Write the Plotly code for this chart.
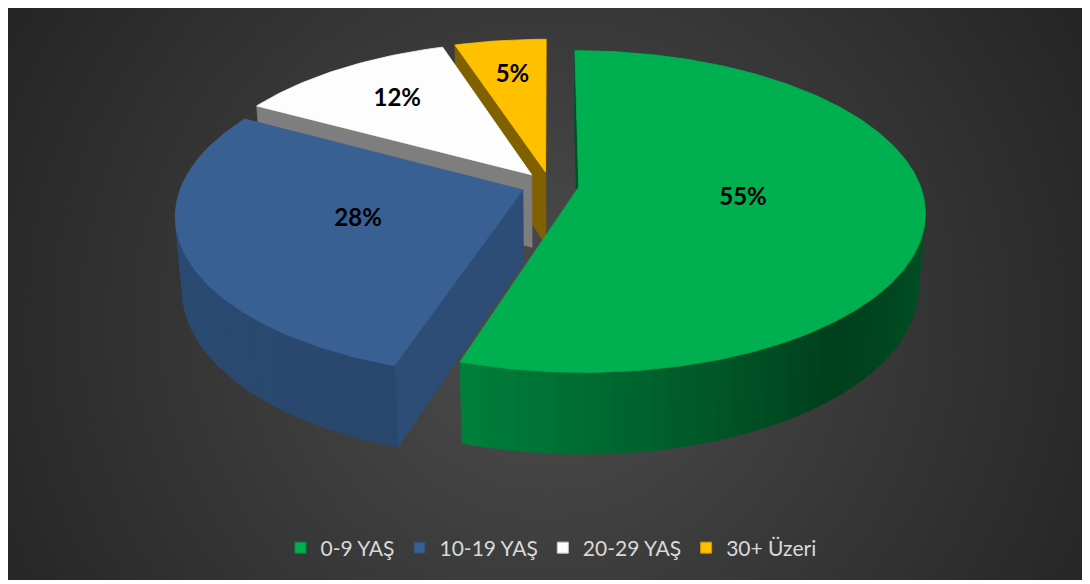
import math
import base64
import plotly.graph_objects as go

# ---------------- data ----------------
CATEGORIES = ["0-9 YAŞ", "10-19 YAŞ", "20-29 YAŞ", "30+ Üzeri"]
VALUES = [55, 28, 12, 5]

# ---------------- style ----------------
TOP_COLORS = ["#00B050", "#386093", "#FDFDFD", "#FFC000"]
CUT_SHADE = [0.45, 0.80, 0.50, 0.50]
LABEL_RADIUS = [0.48, 0.50, 0.68, 0.70]

PAGE_OFF = 8                   # default body margin of the html page
W, H = 1090 - PAGE_OFF, 584 - PAGE_OFF
CX, CY = 550.0 - PAGE_OFF, 185.0 - PAGE_OFF   # pie centre (top face)
FOCAL = 2000.0
DIST = 5.86
ALPHA = math.radians(27.3)     # view elevation
THICK = 0.245                  # pie thickness (radius = 1)
EXPLODE = 0.085                # explosion distance (radius = 1)

CA, SA = math.cos(ALPHA), math.sin(ALPHA)
CAM = (0.0, DIST * SA, -DIST * CA)


def project(X, Y, Z):
    d = DIST + Z * CA - Y * SA
    yc = Y * CA + Z * SA
    return CX + FOCAL * X / d, CY - FOCAL * yc / d


def shade(hexc, f):
    r, g, b = int(hexc[1:3], 16), int(hexc[3:5], 16), int(hexc[5:7], 16)
    return "rgb(%d,%d,%d)" % (min(255, round(r * f)), min(255, round(g * f)), min(255, round(b * f)))


def wall_factor(t):
    pts = [(0, 0.5), (95, 0.48), (140, 0.36), (200, 0.74), (280, 0.8), (360, 0.8)]
    for (a0, f0), (a1, f1) in zip(pts[:-1], pts[1:]):
        if a0 <= t <= a1:
            return f0 + (f1 - f0) * (t - a0) / (a1 - a0)
    return 0.6


def visible(normal, point):
    v = (CAM[0] - point[0], CAM[1] - point[1], CAM[2] - point[2])
    return normal[0] * v[0] + normal[1] * v[1] + normal[2] * v[2] > 0


def poly_trace(pts, color):
    xs = [p[0] for p in pts] + [pts[0][0]]
    ys = [p[1] for p in pts] + [pts[0][1]]
    return go.Scatter(x=xs, y=ys, mode="lines", fill="toself", fillcolor=color,
                      line=dict(color=color, width=0.8), hoverinfo="skip", showlegend=False)


total = float(sum(VALUES))
slices = []
start = 0.0
for i, v in enumerate(VALUES):
    sweep = 360.0 * v / total
    slices.append((i, start, start + sweep))
    start += sweep


def offset(t0, t1):
    m = math.radians((t0 + t1) / 2)
    return EXPLODE * math.sin(m), EXPLODE * math.cos(m)


# far slices first
order = sorted(slices, key=lambda s: -offset(s[1], s[2])[1])

traces = []
label_x, label_y, label_t = [], [], []
for i, t0, t1 in order:
    ox, oz = offset(t0, t1)
    col = TOP_COLORS[i]

    def rim(t, Y):
        a = math.radians(t)
        return project(ox + math.sin(a), Y, oz + math.cos(a))

    apex_top = project(ox, 0, oz)
    apex_bot = project(ox, -THICK, oz)

    # cut faces
    for t, sgn in ((t0, -1), (t1, 1)):
        a = math.radians(t)
        n = (sgn * math.cos(a), 0.0, -sgn * math.sin(a))
        p = (ox + 0.5 * math.sin(a), -THICK / 2, oz + 0.5 * math.cos(a))
        if visible(n, p):
            traces.append(poly_trace([apex_top, rim(t, 0), rim(t, -THICK), apex_bot],
                                     shade(col, CUT_SHADE[i])))

    # outer wall
    step = 2.0
    t = t0
    while t < t1 - 1e-9:
        te = min(t1, t + step)
        tm = math.radians((t + te) / 2)
        n = (math.sin(tm), 0.0, math.cos(tm))
        p = (ox + math.sin(tm), -THICK / 2, oz + math.cos(tm))
        if visible(n, p):
            traces.append(poly_trace([rim(t, 0), rim(te, 0), rim(te, -THICK), rim(t, -THICK)],
                                     shade(col, wall_factor((t + te) / 2))))
        t = te

    # top face
    pts = [apex_top]
    n_seg = max(2, int(math.ceil(t1 - t0)))
    for k in range(n_seg + 1):
        pts.append(rim(t0 + (t1 - t0) * k / n_seg, 0))
    traces.append(poly_trace(pts, col))

    # label
    m = math.radians((t0 + t1) / 2)
    lx, ly = project(ox + LABEL_RADIUS[i] * math.sin(m), 0, oz + LABEL_RADIUS[i] * math.cos(m))
    label_x.append(lx)
    label_y.append(ly)
    label_t.append("%d%%" % round(VALUES[i] / total * 100))

traces.append(go.Scatter(x=label_x, y=label_y, mode="text", text=label_t,
                         textfont=dict(family="Lato", size=24, color="#000000", weight="bold"),
                         hoverinfo="skip", showlegend=False))

# legend entries
for i, name in enumerate(CATEGORIES):
    traces.append(go.Scatter(x=[None], y=[None], mode="markers", name=name,
                             marker=dict(symbol="square", size=11, color=TOP_COLORS[i],
                                         line=dict(color=shade(TOP_COLORS[i], 0.8), width=1))))

fig = go.Figure(traces)

# background radial gradient
svg = (
    '<svg xmlns="http://www.w3.org/2000/svg" width="1076" height="576" viewBox="0 0 1076 576" preserveAspectRatio="none">'
    '<defs><radialGradient id="g" gradientUnits="userSpaceOnUse" cx="538" cy="317" r="600">'
    '<stop offset="0" stop-color="#4d4d4d"/><stop offset="1" stop-color="#262626"/>'
    '</radialGradient></defs><rect width="1076" height="576" fill="url(#g)"/></svg>'
)
src = "data:image/svg+xml;base64," + base64.b64encode(svg.encode()).decode()

fig.update_layout(
    width=W, height=H, autosize=False,
    margin=dict(l=0, r=0, t=0, b=0),
    paper_bgcolor="#FFFFFF", plot_bgcolor="rgba(0,0,0,0)",
    xaxis=dict(range=[0, W], visible=False, fixedrange=True),
    yaxis=dict(range=[H, 0], visible=False, fixedrange=True),
    images=[dict(source=src, xref="paper", yref="paper", x=0, y=1,
                 sizex=(1083 - PAGE_OFF) / W, sizey=(580 - PAGE_OFF) / H,
                 xanchor="left", yanchor="top", sizing="stretch", layer="below")],
    showlegend=True,
    legend=dict(orientation="h", x=(551 - PAGE_OFF) / W, xanchor="center",
                y=1 - (548 - PAGE_OFF) / H, yanchor="middle",
                font=dict(family="Lato", size=21, color="#D9D9D9"), bgcolor="rgba(0,0,0,0)",
                itemclick=False, itemdoubleclick=False),
)

fig.write_html("out.html")
